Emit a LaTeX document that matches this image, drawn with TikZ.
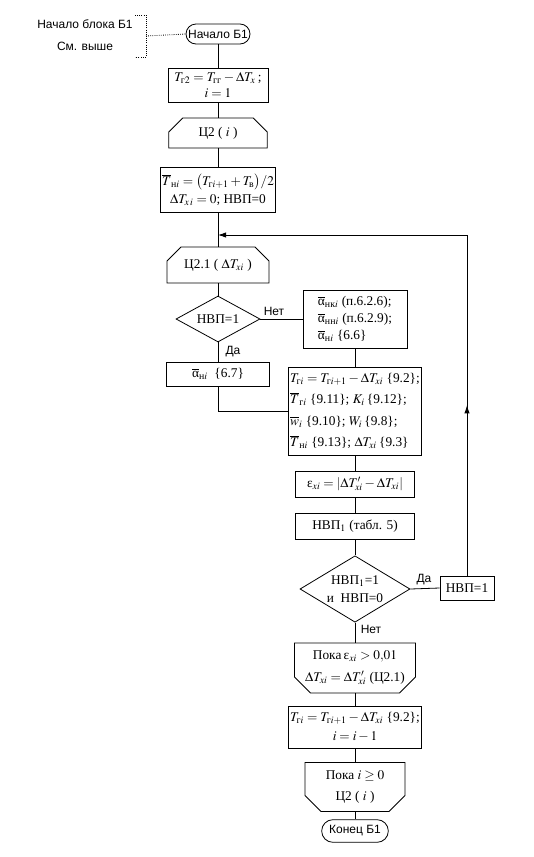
\documentclass[tikz,border=0pt]{standalone}
\usepackage{amsmath}
\usepackage{mathptmx}
\usepackage{fontspec}
\setmainfont{Liberation Serif}
\newfontfamily\lblfont{Liberation Sans}
\usetikzlibrary{shapes.misc,shapes.geometric,arrows.meta,decorations.markings}

\tikzset{every picture/.style={line width=0.6pt}}
\tikzset{
  blk/.style={draw, rectangle, inner sep=1pt, align=center, font=\fontsize{10}{13}\selectfont},
  loopbeg/.style={blk, chamfered rectangle, chamfered rectangle corners={north west,north east}, chamfered rectangle xsep=7pt, chamfered rectangle ysep=5pt},
  loopend/.style={blk, chamfered rectangle, chamfered rectangle corners={south west,south east}, chamfered rectangle xsep=7pt, chamfered rectangle ysep=5pt},
  term/.style={draw, rounded rectangle, inner sep=2pt, font=\lblfont\fontsize{9}{11}\selectfont},
  cond/.style={draw, diamond, inner sep=-3pt, align=center, font=\fontsize{10}{13}\selectfont},
  lbl/.style={inner sep=0.75pt, font=\lblfont\fontsize{9}{11}\selectfont},
  midarrow/.style={postaction={decorate}, decoration={markings, mark=at position 0.5 with {\arrow{Latex[length=6pt,width=4pt]}}}}
}

\begin{document}
\begin{tikzpicture}[x=0.75pt,y=0.75pt,yscale=-1,xscale=1]
\useasboundingbox (0,0) rectangle (534,857);

% Text Node
\node [lbl] (note1) at (85,24) {Начало блока Б1};
% Text Node
\node [lbl] (note2) at (85,46) {См. выше};
% Terminal
\node [term, minimum width=52pt, minimum height=15pt] (start) at (218,34) {Начало Б1};
% Process
\node [blk, minimum width=75pt, minimum height=25.5pt, font=\fontsize{10}{11.5}\selectfont] (b1) at (218,85) {$T_{\text{г}2} = T_{\text{гг}} - \Delta T_x$\,; \\ $i = 1$};
% Loop begin
\node [loopbeg, minimum width=74pt, minimum height=22.5pt] (c2) at (218,133) {Ц2 ( $i$ )};
% Process
\node [blk, minimum width=83pt, minimum height=34pt, font=\fontsize{10}{13.5}\selectfont] (tn) at (218,190) {$\overline{T}_{\text{н}i} = \bigl(T_{\text{г}i+1} + T_{\text{в}}\bigr)/2$ \\ $\Delta T_{x\,i} = 0$; НВП=0};
% Loop begin
\node [loopbeg, minimum width=76.5pt, minimum height=27pt] (c21) at (218,265) {Ц2.1 ( $\Delta T_{xi}$ )};
% Decision
\node [cond, minimum width=63pt, minimum height=34.5pt] (d1) at (218,319) {НВП=1};
% Process
\node [blk, align=left, minimum width=78pt, minimum height=43.5pt, font=\fontsize{10}{13}\selectfont] (ra) at (355,319) {$\overline{\mbox{α}}_{\text{нк}i}$ (п.6.2.6); \\ $\overline{\mbox{α}}_{\text{нн}i}$ (п.6.2.9); \\ $\overline{\mbox{α}}_{\text{н}i}$ \{6.6\}};
% Process
\node [blk, minimum width=77pt, minimum height=18pt] (a67) at (218,374) {$\overline{\mbox{α}}_{\text{н}i}$ \ \{6.7\}};
% Process
\node [blk, align=left, minimum width=97.5pt, minimum height=66pt, font=\fontsize{10}{16}\selectfont] (big) at (355,411) {$T_{\text{г}i} = T_{\text{г}i+1} - \Delta T_{xi}$ \{9.2\}; \\ $\overline{T}_{\text{г}i}$ \{9.11\}; $K_i$\,\{9.12\}; \\ $\overline{w}_i$ \{9.10\}; $W_i$\,\{9.8\}; \\ $\overline{T}_{\text{н}i}$ \{9.13\}; $\Delta T_{xi}$\,\{9.3\}};
% Process
\node [blk, minimum width=89pt, minimum height=19.5pt] (eps) at (355,484) {$\mbox{ε}_{xi} = |\Delta T'_{xi} - \Delta T_{xi}|$};
% Process
\node [blk, minimum width=89pt, minimum height=19.5pt] (nvp1) at (355,526) {НВП$_1$ (табл. 5)};
% Decision
\node [cond, minimum width=82.5pt, minimum height=49.5pt] (d2) at (355,589) {НВП$_1$=1 \\ и \ НВП=0};
% Process
\node [blk, minimum width=40.5pt, minimum height=18pt] (nvp) at (467,588) {НВП=1};
% Loop end
\node [loopend, minimum width=90pt, minimum height=32pt, font=\fontsize{10}{16}\selectfont] (le) at (355,668) {Пока\,$\mbox{ε}_{xi} > 0{,}01$ \\ $\Delta T_{xi} = \Delta T'_{xi}$ (Ц2.1)};
% Process
\node [blk, minimum width=90pt, minimum height=31.5pt, font=\fontsize{10}{14}\selectfont] (tr) at (355,727) {$T_{\text{г}i} = T_{\text{г}i+1} - \Delta T_{xi}$ \{9.2\}; \\ $i = i - 1$};
% Loop end
\node [loopend, minimum width=75pt, minimum height=34.5pt, font=\fontsize{10}{16}\selectfont] (le2) at (355,787) {Пока $i \geq 0$ \\ Ц2 ( $i$ )};
% Terminal
\node [term, minimum width=54pt, minimum height=17pt] (end) at (355,831) {Конец Б1};

% Text Node
\node [lbl] (no1) at (274,311) {Нет};
% Text Node
\node [lbl] (yes1) at (233,352) {Да};
% Text Node
\node [lbl] (yes2) at (424,580) {Да};
% Text Node
\node [lbl] (no2) at (371,629) {Нет};

%Dotted bracket
\coordinate (bt) at (135,15);
\coordinate (bb) at (135,57);
\coordinate (bm) at (146,36);
\draw [densely dotted] (bt) -- ++(11,0) |- (bb);
\draw [densely dotted] (bm) -- (start.west);

%Straight Lines
\draw (start.south) -- (b1.north);
\draw (b1.south) -- (c2.north);
\draw (c2.south) -- (tn.north);
\draw (tn.south) -- (c21.north);
\draw (c21.south) -- (d1.north);
\draw (d1.south) -- (a67.north);
\draw (d1.east) -- (ra.west);
\draw (ra.south) -- (big.north);
\draw (a67.south) |- (big.west);
\draw (big.south) -- (eps.north);
\draw (eps.south) -- (nvp1.north);
\draw (nvp1.south) -- (d2.north);
\draw (d2.east) -- (nvp.west);
\draw (d2.south) -- (le.north);
\draw (le.south) -- (tr.north);
\draw (tr.south) -- (le2.north);
\draw (le2.south) -- (end.north);

%Return line
\coordinate (ret) at (467,235);
\draw [midarrow] (nvp.north) -- (ret);
\draw [-{Latex[length=6pt,width=4pt]}] (ret) -- (ret -| c21.north);

\end{tikzpicture}
\end{document}
